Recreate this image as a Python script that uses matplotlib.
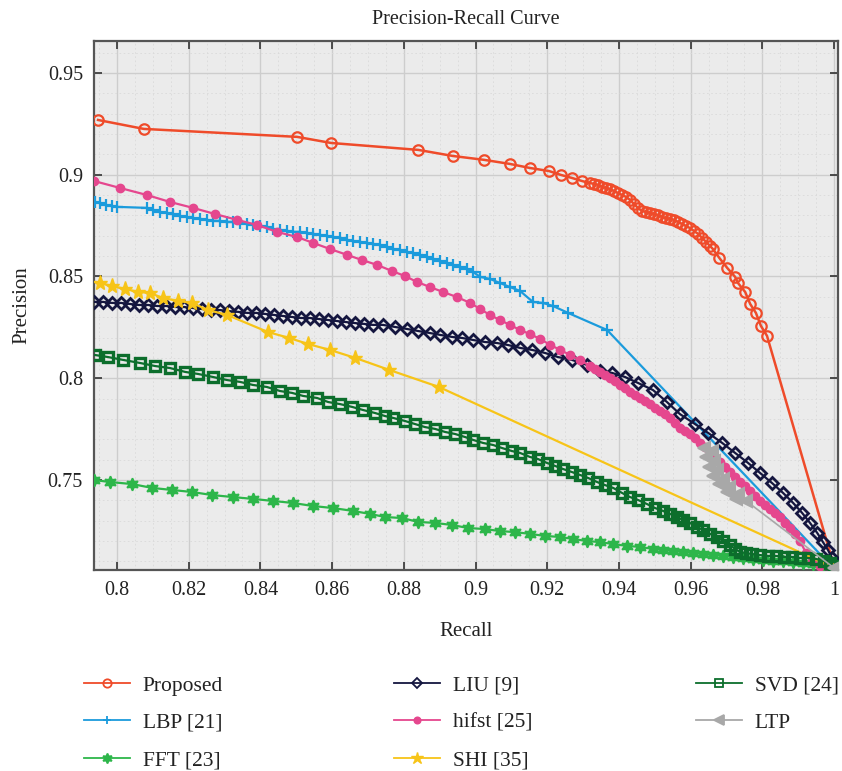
import matplotlib
matplotlib.use("Agg")
import matplotlib.pyplot as plt
from matplotlib.lines import Line2D
from matplotlib.ticker import MultipleLocator

plt.rcParams['font.family'] = ['Liberation Serif', 'DejaVu Serif']

# ---------------- data ----------------
proposed_r = [0.7947, 0.8075, 0.8502, 0.8597, 0.8840, 0.8937, 0.9024, 0.9096, 0.9152, 0.9205,
              0.9238, 0.9269, 0.9297, 0.9319, 0.9331, 0.9342, 0.9353, 0.9364, 0.9375, 0.9386,
              0.9397, 0.9409, 0.9420, 0.9431, 0.9442, 0.9453, 0.9464, 0.9476, 0.9487, 0.9498,
              0.9509, 0.9520, 0.9531, 0.9543, 0.9554, 0.9565, 0.9576, 0.9587, 0.9598, 0.9609,
              0.9621, 0.9632, 0.9643, 0.9654, 0.9662, 0.9680, 0.9702, 0.9724, 0.9732, 0.9752,
              0.9766, 0.9782, 0.9796, 0.9813, 1.0]
proposed_p = [0.9269, 0.9225, 0.9186, 0.9156, 0.9122, 0.9092, 0.9073, 0.9053, 0.9033, 0.9018,
              0.8999, 0.8984, 0.8969, 0.8959, 0.8955, 0.8950, 0.8940, 0.8935, 0.8930, 0.8920,
              0.8910, 0.8900, 0.8891, 0.8876, 0.8856, 0.8837, 0.8822, 0.8817, 0.8812, 0.8807,
              0.8802, 0.8792, 0.8787, 0.8783, 0.8778, 0.8768, 0.8758, 0.8748, 0.8738, 0.8724,
              0.8709, 0.8689, 0.8670, 0.8650, 0.8635, 0.8591, 0.8542, 0.8498, 0.8468, 0.8424,
              0.8365, 0.8321, 0.8257, 0.8208, 0.7075]

lbp_r = [0.7939, 0.7953, 0.7969, 0.7986, 0.8000, 0.8084, 0.8100, 0.8120, 0.8139, 0.8156,
         0.8176, 0.8195, 0.8212, 0.8232, 0.8251, 0.8268, 0.8287, 0.8307, 0.8324, 0.8343,
         0.8363, 0.8379, 0.8399, 0.8418, 0.8435, 0.8455, 0.8474, 0.8491, 0.8510, 0.8530,
         0.8547, 0.8566, 0.8586, 0.8603, 0.8622, 0.8642, 0.8658, 0.8678, 0.8697, 0.8714,
         0.8734, 0.8753, 0.8770, 0.8789, 0.8809, 0.8826, 0.8845, 0.8865, 0.8881, 0.8901,
         0.8921, 0.8937, 0.8957, 0.8976, 0.8993, 0.9013, 0.9040, 0.9068, 0.9096, 0.9124,
         0.9160, 0.9188, 0.9216, 0.9258, 0.9367, 1.0]
lbp_p = [0.8866, 0.8861, 0.8851, 0.8846, 0.8842, 0.8837, 0.8827, 0.8817, 0.8812, 0.8807,
         0.8797, 0.8792, 0.8787, 0.8783, 0.8778, 0.8773, 0.8773, 0.8768, 0.8768, 0.8763,
         0.8758, 0.8753, 0.8748, 0.8743, 0.8733, 0.8729, 0.8724, 0.8719, 0.8719, 0.8714,
         0.8709, 0.8704, 0.8699, 0.8694, 0.8689, 0.8679, 0.8674, 0.8670, 0.8665, 0.8660,
         0.8655, 0.8645, 0.8635, 0.8630, 0.8620, 0.8615, 0.8606, 0.8596, 0.8586, 0.8576,
         0.8566, 0.8557, 0.8547, 0.8537, 0.8522, 0.8498, 0.8488, 0.8468, 0.8448, 0.8429,
         0.8375, 0.8370, 0.8355, 0.8321, 0.8237, 0.7063]

fft_r = [0.7936, 0.7980, 0.8042, 0.8098, 0.8153, 0.8209, 0.8265, 0.8324, 0.8379, 0.8435,
         0.8491, 0.8547, 0.8603, 0.8658, 0.8706, 0.8748, 0.8795, 0.8840, 0.8887, 0.8934,
         0.8979, 0.9026, 0.9068, 0.9110, 0.9152, 0.9194, 0.9236, 0.9272, 0.9311, 0.9347,
         0.9384, 0.9423, 0.9459, 0.9495, 0.9523, 0.9551, 0.9579, 0.9607, 0.9635, 0.9662,
         0.9690, 0.9718, 0.9746, 0.9774, 0.9802, 0.9830, 0.9858, 0.9886, 0.9914, 0.9941,
         0.9969, 1.0]
fft_p = [0.7500, 0.7490, 0.7480, 0.7461, 0.7451, 0.7441, 0.7426, 0.7416, 0.7407, 0.7397,
         0.7387, 0.7372, 0.7362, 0.7348, 0.7333, 0.7318, 0.7313, 0.7294, 0.7289, 0.7279,
         0.7264, 0.7259, 0.7249, 0.7244, 0.7235, 0.7225, 0.7220, 0.7210, 0.7200, 0.7195,
         0.7185, 0.7176, 0.7171, 0.7161, 0.7156, 0.7151, 0.7146, 0.7141, 0.7136, 0.7131,
         0.7127, 0.7122, 0.7117, 0.7112, 0.7107, 0.7102, 0.7102, 0.7097, 0.7092, 0.7087,
         0.7082, 0.7072]

liu_r = [0.7936, 0.7961, 0.7986, 0.8011, 0.8036, 0.8061, 0.8086, 0.8112, 0.8137, 0.8162,
         0.8187, 0.8212, 0.8237, 0.8262, 0.8287, 0.8312, 0.8338, 0.8363, 0.8388, 0.8413,
         0.8438, 0.8463, 0.8488, 0.8513, 0.8538, 0.8563, 0.8589, 0.8614, 0.8639, 0.8664,
         0.8689, 0.8714, 0.8742, 0.8775, 0.8809, 0.8840, 0.8873, 0.8901, 0.8934, 0.8962,
         0.8993, 0.9026, 0.9060, 0.9091, 0.9124, 0.9158, 0.9194, 0.9230, 0.9269, 0.9311,
         0.9347, 0.9381, 0.9417, 0.9453, 0.9495, 0.9534, 0.9570, 0.9612, 0.9649, 0.9688,
         0.9724, 0.9760, 0.9794, 0.9827, 0.9858, 0.9886, 0.9911, 0.9933, 0.9953, 0.9969,
         0.9983, 0.9994, 1.0]
liu_p = [0.8375, 0.8375, 0.8370, 0.8370, 0.8365, 0.8360, 0.8360, 0.8355, 0.8355, 0.8350,
         0.8350, 0.8345, 0.8340, 0.8335, 0.8335, 0.8330, 0.8326, 0.8321, 0.8321, 0.8316,
         0.8311, 0.8306, 0.8301, 0.8296, 0.8296, 0.8291, 0.8286, 0.8281, 0.8276, 0.8271,
         0.8267, 0.8262, 0.8262, 0.8252, 0.8242, 0.8232, 0.8222, 0.8213, 0.8203, 0.8198,
         0.8188, 0.8178, 0.8173, 0.8163, 0.8149, 0.8139, 0.8124, 0.8104, 0.8090, 0.8065,
         0.8036, 0.8026, 0.8006, 0.7977, 0.7942, 0.7883, 0.7824, 0.7775, 0.7731, 0.7682,
         0.7633, 0.7584, 0.7534, 0.7485, 0.7436, 0.7387, 0.7338, 0.7289, 0.7240, 0.7195,
         0.7156, 0.7117, 0.7077]

hifst_r = [0.7936, 0.8008, 0.8084, 0.8148, 0.8212, 0.8273, 0.8335, 0.8391, 0.8446, 0.8502,
           0.8547, 0.8594, 0.8642, 0.8683, 0.8725, 0.8767, 0.8803, 0.8837, 0.8873, 0.8909,
           0.8948, 0.8985, 0.9013, 0.9040, 0.9068, 0.9096, 0.9124, 0.9152, 0.9180, 0.9208,
           0.9236, 0.9264, 0.9291, 0.9319, 0.9333, 0.9347, 0.9361, 0.9375, 0.9389, 0.9403,
           0.9417, 0.9431, 0.9445, 0.9459, 0.9473, 0.9487, 0.9501, 0.9515, 0.9529, 0.9543,
           0.9557, 0.9570, 0.9584, 0.9598, 0.9612, 0.9626, 0.9640, 0.9654, 0.9668, 0.9682,
           0.9696, 0.9710, 0.9724, 0.9738, 0.9752, 0.9766, 0.9780, 0.9794, 0.9808, 0.9821,
           0.9835, 0.9849, 0.9863, 0.9877, 0.9891, 0.9905, 0.9922, 0.9939, 0.9961, 1.0]
hifst_p = [0.8969, 0.8935, 0.8900, 0.8866, 0.8837, 0.8807, 0.8778, 0.8753, 0.8719, 0.8694,
           0.8665, 0.8635, 0.8606, 0.8581, 0.8557, 0.8527, 0.8502, 0.8473, 0.8448, 0.8424,
           0.8399, 0.8370, 0.8340, 0.8311, 0.8286, 0.8262, 0.8237, 0.8217, 0.8193, 0.8164,
           0.8139, 0.8114, 0.8090, 0.8060, 0.8045, 0.8031, 0.8016, 0.8001, 0.7984, 0.7967,
           0.7950, 0.7932, 0.7918, 0.7903, 0.7888, 0.7873, 0.7856, 0.7839, 0.7822, 0.7805,
           0.7780, 0.7756, 0.7741, 0.7726, 0.7704, 0.7682, 0.7660, 0.7638, 0.7613, 0.7588,
           0.7564, 0.7539, 0.7515, 0.7490, 0.7468, 0.7446, 0.7421, 0.7397, 0.7377, 0.7357,
           0.7338, 0.7318, 0.7291, 0.7264, 0.7235, 0.7200, 0.7141, 0.7102, 0.7077, 0.7068]

shi_r = [0.7953, 0.7986, 0.8022, 0.8059, 0.8092, 0.8128, 0.8170, 0.8209, 0.8254, 0.8307,
         0.8421, 0.8480, 0.8533, 0.8594, 0.8664, 0.8759, 0.8898, 1.0]
shi_p = [0.8468, 0.8453, 0.8439, 0.8424, 0.8419, 0.8394, 0.8380, 0.8370, 0.8335, 0.8311,
         0.8227, 0.8198, 0.8168, 0.8139, 0.8100, 0.8041, 0.7957, 0.7068]

svd_r = [0.7939, 0.7975, 0.8017, 0.8064, 0.8106, 0.8148, 0.8190, 0.8226, 0.8268, 0.8307,
         0.8343, 0.8379, 0.8418, 0.8455, 0.8488, 0.8519, 0.8558, 0.8589, 0.8622, 0.8656,
         0.8686, 0.8720, 0.8748, 0.8770, 0.8803, 0.8831, 0.8859, 0.8887, 0.8915, 0.8943,
         0.8971, 0.8993, 0.9021, 0.9049, 0.9074, 0.9102, 0.9124, 0.9152, 0.9174, 0.9199,
         0.9222, 0.9244, 0.9269, 0.9291, 0.9314, 0.9339, 0.9361, 0.9384, 0.9409, 0.9431,
         0.9453, 0.9478, 0.9501, 0.9523, 0.9543, 0.9562, 0.9579, 0.9598, 0.9618, 0.9635,
         0.9654, 0.9674, 0.9690, 0.9710, 0.9724, 0.9738, 0.9755, 0.9771, 0.9794, 0.9816,
         0.9838, 0.9861, 0.9883, 0.9905, 0.9927, 0.9950, 0.9972, 0.9989, 1.0]
svd_p = [0.8114, 0.8104, 0.8090, 0.8075, 0.8060, 0.8050, 0.8031, 0.8021, 0.8006, 0.7991,
         0.7982, 0.7967, 0.7957, 0.7937, 0.7928, 0.7913, 0.7903, 0.7883, 0.7873, 0.7859,
         0.7844, 0.7829, 0.7814, 0.7805, 0.7790, 0.7775, 0.7760, 0.7751, 0.7736, 0.7726,
         0.7711, 0.7697, 0.7682, 0.7672, 0.7657, 0.7642, 0.7633, 0.7613, 0.7603, 0.7584,
         0.7569, 0.7554, 0.7539, 0.7525, 0.7510, 0.7490, 0.7475, 0.7461, 0.7436, 0.7416,
         0.7402, 0.7382, 0.7362, 0.7348, 0.7333, 0.7318, 0.7303, 0.7289, 0.7269, 0.7254,
         0.7235, 0.7220, 0.7200, 0.7181, 0.7161, 0.7146, 0.7141, 0.7136, 0.7131, 0.7127,
         0.7127, 0.7122, 0.7122, 0.7117, 0.7117, 0.7112, 0.7102, 0.7092, 0.7077]

ltp_r = [0.9637, 0.9659, 0.9643, 0.9665, 0.9651, 0.9674, 0.9662, 0.9690, 0.9679, 0.9707,
         0.9702, 0.9732, 0.9727, 0.9755, 1.0]
ltp_p = [0.7657, 0.7642, 0.7613, 0.7593, 0.7564, 0.7549, 0.7520, 0.7505, 0.7480, 0.7466,
         0.7441, 0.7431, 0.7407, 0.7397, 0.7068]

labels = ["Proposed", "LBP [21]", "FFT [23]", "LIU [9]", "hifst [25]", "SHI [35]", "SVD [24]", "LTP"]

# ---------------- figure ----------------
W, H = 842, 771
fig = plt.figure(figsize=(W / 100, H / 100), dpi=100)
ax = fig.add_axes([94 / W, 1 - 570 / H, (838 - 94) / W, (570 - 41) / H])
ax.set_facecolor('#ebebeb')

RED = '#ef4b2a'
BLUE = '#1b9bdc'
FGREEN = '#2db64a'
NAVY = '#14163f'
PINK = '#e5478e'
YELLOW = '#f7c418'
DGREEN = '#0c6e2c'
GRAY = '#a8a8a8'

styles = [
    dict(x=proposed_r, y=proposed_p, color=RED, marker='o', ms=7.5, mfc='none', mew=1.6, lw=1.8),
    dict(x=lbp_r, y=lbp_p, color=BLUE, marker='+', ms=8, mfc=BLUE, mew=1.6, lw=1.6),
    dict(x=fft_r, y=fft_p, color=FGREEN, marker=(6, 1, 0), ms=9, mfc=FGREEN, mew=1.2, lw=1.6),
    dict(x=liu_r, y=liu_p, color=NAVY, marker='D', ms=6.5, mfc='none', mew=2.0, lw=1.6),
    dict(x=hifst_r, y=hifst_p, color=PINK, marker='o', ms=6, mfc=PINK, mew=1.0, lw=1.6),
    dict(x=shi_r, y=shi_p, color=YELLOW, marker='*', ms=11, mfc=YELLOW, mew=1.0, lw=1.6),
    dict(x=svd_r, y=svd_p, color=DGREEN, marker='s', ms=6.5, mfc='none', mew=2.4, lw=1.6),
    dict(x=ltp_r, y=ltp_p, color=GRAY, marker='<', ms=8.5, mfc=GRAY, mew=1.5, lw=1.2),
]

for i, s in enumerate(styles):
    ax.plot(s['x'], s['y'], color=s['color'], marker=s['marker'], ms=s['ms'],
            mfc=s['mfc'], mec=s['color'], mew=s['mew'], lw=s['lw'], zorder=3 + i,
            clip_on=True)

ax.set_xlim(0.79358, 1.0011)
ax.set_ylim(0.70577, 0.9657)
ax.xaxis.set_major_locator(MultipleLocator(0.02))
ax.xaxis.set_minor_locator(MultipleLocator(0.005))
ax.yaxis.set_major_locator(MultipleLocator(0.05))
ax.yaxis.set_minor_locator(MultipleLocator(0.01))
ax.set_xticks([0.8, 0.82, 0.84, 0.86, 0.88, 0.9, 0.92, 0.94, 0.96, 0.98, 1.0])
ax.set_xticklabels(['0.8', '0.82', '0.84', '0.86', '0.88', '0.9', '0.92', '0.94', '0.96', '0.98', '1'])
ax.set_yticks([0.75, 0.8, 0.85, 0.9, 0.95])
ax.set_yticklabels(['0.75', '0.8', '0.85', '0.9', '0.95'])

ax.grid(which='major', color='#cdcdcd', lw=1.0, ls='-', zorder=0)
ax.grid(which='minor', color='#dadada', lw=0.6, ls=(0, (2, 3)), zorder=0)
ax.set_axisbelow(True)

ax.tick_params(which='major', direction='in', length=6, width=1.2, top=True, right=True,
               labelsize=14.5, colors='#333333', labelcolor='#222222', pad=8)
ax.tick_params(which='minor', length=0, top=True, right=True)
for sp in ax.spines.values():
    sp.set_color('#555555')
    sp.set_linewidth(1.6)

ax.set_title('Precision-Recall Curve', fontsize=14.5, color='#222222', pad=12)
ax.set_xlabel('Recall', fontsize=15, color='#222222', labelpad=16)
ax.set_ylabel('Precision', fontsize=15, color='#222222', labelpad=12)

# ---------------- legend (3 columns) ----------------
def proxy(i, ms_scale=0.8):
    s = styles[i]
    return Line2D([], [], color=s['color'], marker=s['marker'], ms=s['ms'] * ms_scale,
                  mfc=s['mfc'] if s['mfc'] == 'none' else s['color'], mec=s['color'],
                  mew=min(s['mew'], 1.3), lw=1.3)

cols = [(0, 1, 2), (3, 4, 5), (6, 7)]
col_x = [78, 388, 690]
for cx, idxs in zip(col_x, cols):
    leg = fig.legend([proxy(i) for i in idxs], [labels[i] for i in idxs],
                     loc='upper left', bbox_to_anchor=(cx / W, 1 - 669 / H),
                     frameon=False, ncol=1, fontsize=15.5, handlelength=2.1,
                     handletextpad=0.6, labelspacing=0.8, numpoints=1,
                     borderaxespad=0, borderpad=0.3)
    for t in leg.get_texts():
        t.set_color('#222222')

fig.savefig('out.png', dpi=100)
